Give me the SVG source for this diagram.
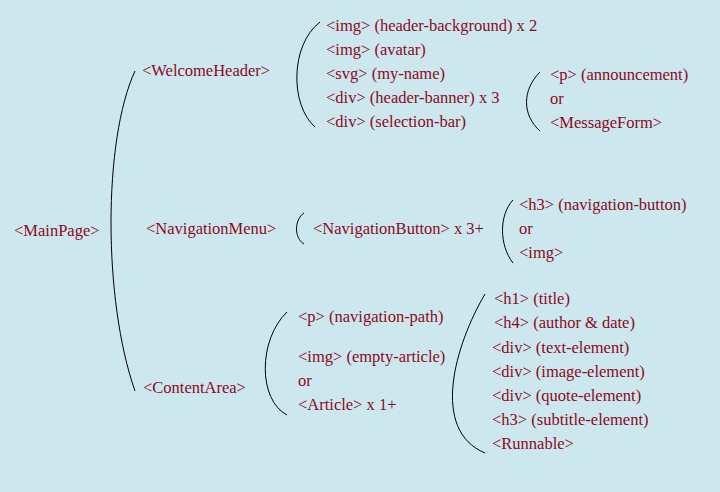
<svg xmlns="http://www.w3.org/2000/svg" width="720" height="492" viewBox="0 0 720 492">
<style>
text{font-family:"Liberation Serif","Times New Roman",serif;font-size:16.5px;fill:#8b0a22}
.br{fill:none;stroke:#000;stroke-width:1}
</style>
<rect width="720" height="492" fill="#cde7ee"/>
<g id="connectors">
<path class="br" d="M135,71 C103,140 103,300 135,391"/>
<path class="br" d="M320,22 C290,45 290,105 315,127"/>
<path class="br" d="M540,72 C522,90 522,115 540,131"/>
<path class="br" d="M304,213 C294,220 294,238 304,244"/>
<path class="br" d="M513,200 C499,215 499,245 513,263"/>
<path class="br" d="M287,312 C258,340 258,400 287,415"/>
<path class="br" d="M485,294 C455,345 430,430 485,453"/>
</g>
<g id="MainPage"><text x="14" y="236">&lt;MainPage&gt;</text></g>
<g id="WelcomeHeader"><text x="142" y="76">&lt;WelcomeHeader&gt;</text></g>
<g id="WelcomeHeaderChildren">
<text x="326" y="31">&lt;img&gt; (header-background) x 2</text>
<text x="326" y="55">&lt;img&gt; (avatar)</text>
<text x="326" y="79">&lt;svg&gt; (my-name)</text>
<text x="326" y="103">&lt;div&gt; (header-banner) x 3</text>
<text x="326" y="127">&lt;div&gt; (selection-bar)</text>
</g>
<g id="BannerChildren">
<text x="550" y="80">&lt;p&gt; (announcement)</text>
<text x="550" y="104">or</text>
<text x="550" y="128">&lt;MessageForm&gt;</text>
</g>
<g id="NavigationMenu"><text x="146" y="234">&lt;NavigationMenu&gt;</text></g>
<g id="NavigationButton"><text x="313" y="234">&lt;NavigationButton&gt; x 3+</text></g>
<g id="NavigationButtonChildren">
<text x="519" y="210">&lt;h3&gt; (navigation-button)</text>
<text x="519" y="234">or</text>
<text x="519" y="258">&lt;img&gt;</text>
</g>
<g id="ContentArea"><text x="143" y="393">&lt;ContentArea&gt;</text></g>
<g id="ContentAreaChildren">
<text x="298" y="322">&lt;p&gt; (navigation-path)</text>
<text x="298" y="362">&lt;img&gt; (empty-article)</text>
<text x="298" y="386">or</text>
<text x="298" y="410">&lt;Article&gt; x 1+</text>
</g>
<g id="ArticleChildren">
<text x="494" y="304">&lt;h1&gt; (title)</text>
<text x="494" y="328">&lt;h4&gt; (author &amp; date)</text>
<text x="492" y="353">&lt;div&gt; (text-element)</text>
<text x="492" y="377">&lt;div&gt; (image-element)</text>
<text x="492" y="401">&lt;div&gt; (quote-element)</text>
<text x="492" y="425">&lt;h3&gt; (subtitle-element)</text>
<text x="492" y="449">&lt;Runnable&gt;</text>
</g>
</svg>
